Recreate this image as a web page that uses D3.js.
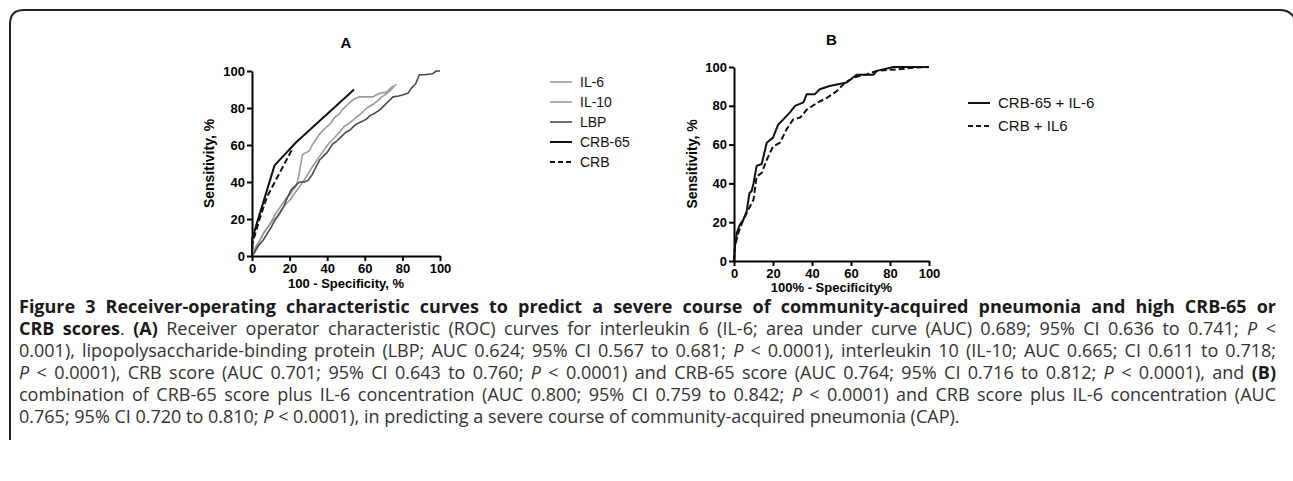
<!DOCTYPE html>
<html>
<head>
<meta charset="utf-8">
<script src="https://cdn.jsdelivr.net/npm/d3@7"></script>
<style>
  body { margin: 0; background: #fff; }
  svg text { font-family: "Liberation Sans", Arial, sans-serif; }
  .cap { font-family: "Open Sans", "Noto Sans", sans-serif; white-space: pre; }
</style>
</head>
<body>
<svg id="fig" width="1293" height="481"></svg>
<script>
//## Data

const ticks = [0, 20, 40, 60, 80, 100];

// panel A, [100 - specificity, sensitivity]
const il6 = [[0,0],[1,2],[2,5],[4,8],[6,12],[8,15],[10,18],[12,22],[14,25],[16,28],[18,31],[20,33],[22,36],[23.6,38],[25,44],[26,50],[27,55],[29,56],[30.7,57],[32,60],[34,63],[36,66],[37.8,68],[40,70],[42,72],[44,75],[46.6,77],[48,79],[50,81],[52,83],[54.6,85],[57,86],[60,86],[64.4,86],[66,87],[68,88],[71.5,88.6],[73,90],[75,92]];
const il10 = [[0,0],[1,3],[2.5,5],[4,8],[6,12],[8,15],[10,18],[13,21],[15,24],[17,27],[20,30],[22,33],[25,37],[27,40],[29,43],[32,48],[34,51],[36,54],[39.5,59],[41,61],[43,63],[46.6,67],[49,70],[52,72],[55.5,75],[58,77],[61,80],[64.4,82],[67,84],[69,86],[71.5,87.7],[73,89],[75,91],[76.8,93]];
const lbp = [[0,0],[1.4,2],[3,5],[5.9,8.5],[8,12],[10.3,15.7],[12,19],[14.7,22.9],[17,27],[19,32],[21,36],[23,38],[25.4,40],[28,40],[30,41],[32,44],[34,48],[36,52],[38,54],[40,56],[43,60.7],[45,62],[47,64],[50,67],[52,68],[55,71],[57,72],[59,73],[60.8,74],[63,76],[65,77],[68,79],[70,81],[72,83],[75,86],[78,86.5],[80,87],[83,88],[85,91],[87,93],[89,98],[92,98],[96,98.5],[98,100],[100,100]];
const crb65 = [[0,0],[0,9],[12,49],[23.5,61.5],[54.3,90]];
const crb = [[0,0],[0,6],[4,20],[8,32],[21.5,58]];

// panel B
const crb65Il6 = [[0,0],[0.5,7.6],[1.4,14.4],[3,18.7],[4.8,21.3],[6.5,25.6],[7.9,35],[9,36],[10,40],[11.6,49],[14.2,50],[16.8,61],[20,63.6],[22.7,70.4],[25.3,73],[28.7,76.6],[31.3,80],[35.6,81.8],[37.3,86],[41.5,86],[44,88.5],[49,90.2],[57.8,92],[62.9,96],[71.5,96],[73.2,98],[81.7,100],[95.4,100],[100,100]];
const crbIl6 = [[0,0],[0.5,7.6],[2.2,14.4],[4.8,21.3],[7.4,26.5],[10,31.6],[11.6,43.6],[14.2,45.4],[16.8,52.2],[20,59],[23.6,61],[27,68],[30.4,73],[34,74],[37.3,78],[42.4,81.4],[47.5,84],[52.6,87.5],[57,92],[61.2,94.5],[68,96.2],[73,98],[83.4,98.8],[93.7,99.7],[100,100]];

const seriesA = [
  { name: "IL-6", data: il6, color: "#9a9a9a", dash: null, width: 1.6 },
  { name: "IL-10", data: il10, color: "#9a9a9a", dash: null, width: 1.6 },
  { name: "LBP", data: lbp, color: "#4a4a4a", dash: null, width: 1.6 },
  { name: "CRB-65", data: crb65, color: "#111", dash: null, width: 2 },
  { name: "CRB", data: crb, color: "#111", dash: "6,3", width: 2 }
];
const seriesB = [
  { name: "CRB-65 + IL-6", data: crb65Il6, color: "#111", dash: null, width: 2 },
  { name: "CRB + IL6", data: crbIl6, color: "#111", dash: "6,3", width: 2 }
];

const caption = [
  [["Figure 3 Receiver-operating characteristic curves to predict a severe course of community-acquired pneumonia and high CRB-65 or", "b"]],
  [["CRB scores", "b"], [". ", ""], ["(A)", "b"], [" Receiver operator characteristic (ROC) curves for interleukin 6 (IL-6; area under curve (AUC) 0.689; 95% CI 0.636 to 0.741; ", ""], ["P", "i"], [" <", ""]],
  [["0.001), lipopolysaccharide-binding protein (LBP; AUC 0.624; 95% CI 0.567 to 0.681; ", ""], ["P", "i"], [" < 0.0001), interleukin 10 (IL-10; AUC 0.665; CI 0.611 to 0.718;", ""]],
  [["P", "i"], [" < 0.0001), CRB score (AUC 0.701; 95% CI 0.643 to 0.760; ", ""], ["P", "i"], [" < 0.0001) and CRB-65 score (AUC 0.764; 95% CI 0.716 to 0.812; ", ""], ["P", "i"], [" < 0.0001), and ", ""], ["(B)", "b"]],
  [["combination of CRB-65 score plus IL-6 concentration (AUC 0.800; 95% CI 0.759 to 0.842; ", ""], ["P", "i"], [" < 0.0001) and CRB score plus IL-6 concentration (AUC", ""]],
  [["0.765; 95% CI 0.720 to 0.810; ", ""], ["P", "i"], [" < 0.0001), in predicting a severe course of community-acquired pneumonia (CAP).", ""]]
];

//## Frame

const svg = d3.select("#fig");

svg.append("path")
  .attr("d", "M10,440 L10,24 Q10,10 24,10 L1280,10 Q1292,10 1296,22")
  .attr("fill", "none")
  .attr("stroke", "#222")
  .attr("stroke-width", 2);

//## Panels

function panel({ left, right, top, bottom, title, titleY, xTitle, xTitleDy, series, yTitleX }) {
  const x = d3.scaleLinear().domain([0, 100]).range([left, right]);
  const y = d3.scaleLinear().domain([0, 100]).range([bottom, top]);
  const g = svg.append("g");

  const styleAxis = (a) => {
    a.select(".domain").attr("stroke", "#000").attr("stroke-width", 2);
    a.selectAll(".tick line").attr("stroke", "#000").attr("stroke-width", 2);
    a.selectAll(".tick text")
      .attr("fill", "#000")
      .style("font-size", "13px")
      .style("font-weight", "bold");
  };

  g.append("g")
    .attr("transform", `translate(0,${bottom})`)
    .call(d3.axisBottom(x).tickValues(ticks).tickSize(5).tickSizeOuter(0).tickPadding(3))
    .call(styleAxis);
  g.append("g")
    .attr("transform", `translate(${left},0)`)
    .call(d3.axisLeft(y).tickValues(ticks).tickSize(5).tickSizeOuter(0).tickPadding(2))
    .call(styleAxis);

  const line = d3.line().x((d) => x(d[0])).y((d) => y(d[1]));
  g.selectAll("path.curve")
    .data(series)
    .join("path")
    .attr("class", "curve")
    .attr("d", (d) => line(d.data))
    .attr("fill", "none")
    .attr("stroke", (d) => d.color)
    .attr("stroke-width", (d) => d.width)
    .attr("stroke-dasharray", (d) => d.dash)
    .attr("stroke-linejoin", "round");

  g.append("text")
    .attr("x", (left + right) / 2)
    .attr("y", titleY)
    .attr("text-anchor", "middle")
    .style("font-size", "15px")
    .style("font-weight", "bold")
    .text(title);

  g.append("text")
    .attr("x", (left + right) / 2)
    .attr("y", bottom + xTitleDy)
    .attr("text-anchor", "middle")
    .style("font-size", "13px")
    .style("font-weight", "bold")
    .text(xTitle);

  g.append("text")
    .attr("transform", `translate(${yTitleX},${(top + bottom) / 2}) rotate(-90)`)
    .attr("text-anchor", "middle")
    .style("font-size", "14px")
    .style("font-weight", "bold")
    .text("Sensitivity, %");
}

panel({ left: 252, right: 440, top: 71, bottom: 256, title: "A", titleY: 48,
  xTitle: "100 - Specificity, %", xTitleDy: 32, series: seriesA, yTitleX: 214 });
panel({ left: 734, right: 929, top: 67, bottom: 261, title: "B", titleY: 45,
  xTitle: "100% - Specificity%", xTitleDy: 31, series: seriesB, yTitleX: 697 });

//## Legends

function legend(items, { x0, y0, step, size }) {
  const g = svg.append("g")
    .selectAll("g")
    .data(items)
    .join("g")
    .attr("transform", (d, i) => `translate(${x0},${y0 + i * step})`);
  g.append("line")
    .attr("x1", 0).attr("x2", 22)
    .attr("stroke", (d) => d.color)
    .attr("stroke-width", (d) => d.width)
    .attr("stroke-dasharray", (d) => (d.dash ? "5,3" : null));
  g.append("text")
    .attr("x", 30)
    .attr("dy", "0.35em")
    .style("font-size", size + "px")
    .attr("fill", "#111")
    .text((d) => d.name);
}

legend(seriesA, { x0: 550, y0: 82, step: 20, size: 14 });
legend(seriesB, { x0: 968, y0: 103, step: 23, size: 15 });

//## Caption

const capLeft = 19, capRight = 1276, capTop = 313, capStep = 22;
caption.forEach((segs, i) => {
  const t = svg.append("text")
    .attr("class", "cap")
    .attr("x", capLeft)
    .attr("y", capTop + i * capStep)
    .style("font-size", "18px")
    .attr("fill", "#333");
  segs.forEach(([s, st]) => {
    t.append("tspan")
      .style("font-weight", st === "b" ? "bold" : null)
      .style("font-style", st === "i" ? "italic" : null)
      .attr("fill", st === "b" ? "#1a1a1a" : null)
      .text(s);
  });
  if (i < caption.length - 1) {
    const full = segs.map((d) => d[0]).join("");
    const spaces = (full.match(/ /g) || []).length;
    const len = t.node().getComputedTextLength();
    t.style("word-spacing", ((capRight - capLeft - len) / spaces) + "px");
  }
});
</script>
</body>
</html>
